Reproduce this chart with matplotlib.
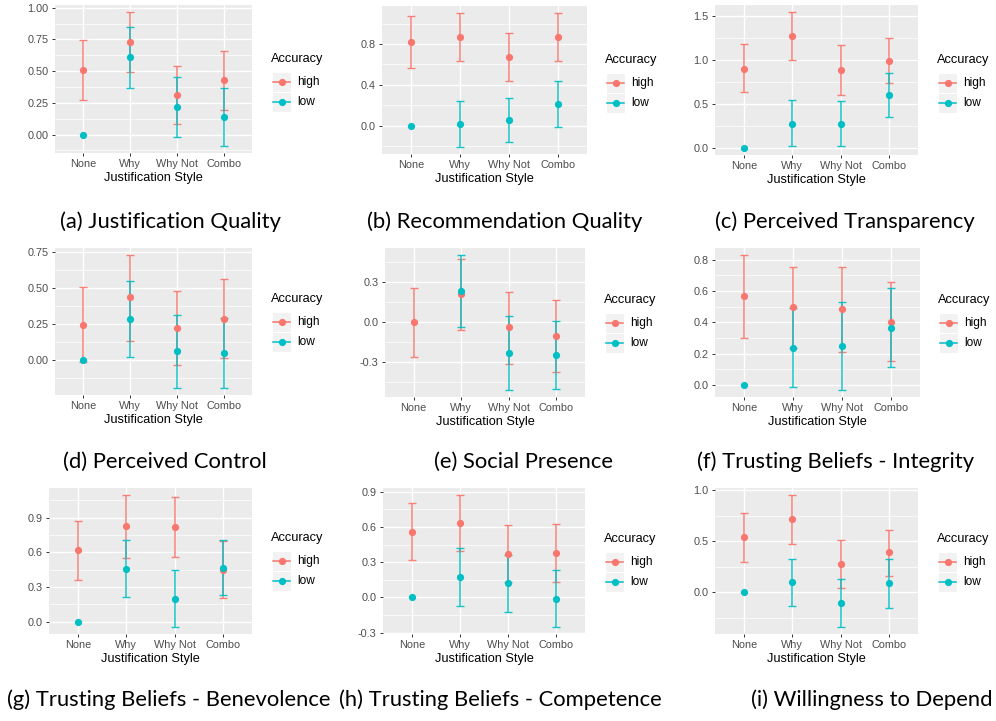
import numpy as np
import matplotlib.pyplot as plt
from matplotlib.patches import Rectangle
from matplotlib.lines import Line2D

W, H = 996, 721

styles = ["None", "Why", "Why Not", "Combo"]
group_names = ["high", "low"]
group_colors = ["#F8766D", "#00BFC4"]

# (a) Justification Quality
jq_high = [0.508, 0.730, 0.310, 0.434]
jq_high_lo = [0.270, 0.495, 0.080, 0.195]
jq_high_hi = [0.745, 0.968, 0.540, 0.660]
jq_low = [0.0, 0.608, 0.216, 0.142]
jq_low_lo = [np.nan, 0.366, -0.020, -0.092]
jq_low_hi = [np.nan, 0.845, 0.453, 0.370]

# (b) Recommendation Quality
rq_high = [0.816, 0.868, 0.673, 0.868]
rq_high_lo = [0.563, 0.630, 0.440, 0.630]
rq_high_hi = [1.070, 1.100, 0.904, 1.106]
rq_low = [0.0, 0.016, 0.059, 0.210]
rq_low_lo = [np.nan, -0.210, -0.160, -0.016]
rq_low_hi = [np.nan, 0.247, 0.276, 0.440]

# (c) Perceived Transparency
pt_high = [0.900, 1.273, 0.887, 0.995]
pt_high_lo = [0.637, 1.000, 0.605, 0.737]
pt_high_hi = [1.185, 1.550, 1.177, 1.253]
pt_low = [0.0, 0.278, 0.278, 0.605]
pt_low_lo = [np.nan, 0.023, 0.023, 0.359]
pt_low_hi = [np.nan, 0.548, 0.540, 0.856]

# (d) Perceived Control
pc_high = [0.245, 0.434, 0.220, 0.286]
pc_high_lo = [-0.012, 0.130, -0.035, 0.012]
pc_high_hi = [0.503, 0.730, 0.476, 0.563]
pc_low = [0.0, 0.286, 0.060, 0.048]
pc_low_lo = [np.nan, 0.018, -0.196, -0.196]
pc_low_hi = [np.nan, 0.550, 0.314, 0.292]

# (e) Social Presence
sp_high = [0.0, 0.210, -0.038, -0.104]
sp_high_lo = [-0.258, -0.058, -0.311, -0.370]
sp_high_hi = [0.258, 0.478, 0.228, 0.165]
sp_low = [np.nan, 0.235, -0.233, -0.248]
sp_low_lo = [np.nan, -0.038, -0.509, -0.500]
sp_low_hi = [np.nan, 0.506, 0.048, 0.013]

# (f) Trusting Beliefs - Integrity
tbi_high = [0.566, 0.496, 0.485, 0.400]
tbi_high_lo = [0.300, 0.238, 0.212, 0.150]
tbi_high_hi = [0.832, 0.755, 0.755, 0.655]
tbi_low = [0.0, 0.238, 0.249, 0.365]
tbi_low_lo = [np.nan, -0.013, -0.034, 0.116]
tbi_low_hi = [np.nan, 0.490, 0.532, 0.620]

# (g) Trusting Beliefs - Benevolence
tbb_high = [0.620, 0.826, 0.818, 0.450]
tbb_high_lo = [0.365, 0.556, 0.564, 0.205]
tbb_high_hi = [0.875, 1.100, 1.077, 0.698]
tbb_low = [0.0, 0.459, 0.200, 0.467]
tbb_low_lo = [np.nan, 0.211, -0.048, 0.231]
tbb_low_hi = [np.nan, 0.704, 0.450, 0.704]

# (h) Trusting Beliefs - Competence
tbc_high = [0.558, 0.636, 0.370, 0.376]
tbc_high_lo = [0.320, 0.398, 0.132, 0.132]
tbc_high_hi = [0.805, 0.875, 0.614, 0.622]
tbc_low = [0.0, 0.174, 0.123, -0.017]
tbc_low_lo = [np.nan, -0.070, -0.120, -0.255]
tbc_low_hi = [np.nan, 0.420, 0.360, 0.230]

# (i) Willingness to Depend
wd_high = [0.539, 0.713, 0.271, 0.390]
wd_high_lo = [0.297, 0.471, 0.039, 0.158]
wd_high_hi = [0.780, 0.955, 0.506, 0.613]
wd_low = [0.0, 0.100, -0.110, 0.090]
wd_low_lo = [np.nan, -0.132, -0.345, -0.152]
wd_low_hi = [np.nan, 0.323, 0.132, 0.323]

captions = ["(a) Justification Quality", "(b) Recommendation Quality",
            "(c) Perceived Transparency", "(d) Perceived Control",
            "(e) Social Presence", "(f) Trusting Beliefs - Integrity",
            "(g) Trusting Beliefs - Benevolence", "(h) Trusting Beliefs - Competence",
            "(i) Willingness to Depend"]

yticks = [[0.0, 0.25, 0.5, 0.75, 1.0], [0.0, 0.4, 0.8, 1.2], [0.0, 0.5, 1.0, 1.5],
          [0.0, 0.25, 0.5, 0.75], [-0.3, 0.0, 0.3], [0.0, 0.2, 0.4, 0.6, 0.8],
          [0.0, 0.3, 0.6, 0.9], [-0.3, 0.0, 0.3, 0.6, 0.9], [0.0, 0.5, 1.0]]
ydec = [2, 1, 1, 2, 1, 1, 1, 1, 1]

data = [
    (jq_high, jq_high_lo, jq_high_hi, jq_low, jq_low_lo, jq_low_hi),
    (rq_high, rq_high_lo, rq_high_hi, rq_low, rq_low_lo, rq_low_hi),
    (pt_high, pt_high_lo, pt_high_hi, pt_low, pt_low_lo, pt_low_hi),
    (pc_high, pc_high_lo, pc_high_hi, pc_low, pc_low_lo, pc_low_hi),
    (sp_high, sp_high_lo, sp_high_hi, sp_low, sp_low_lo, sp_low_hi),
    (tbi_high, tbi_high_lo, tbi_high_hi, tbi_low, tbi_low_lo, tbi_low_hi),
    (tbb_high, tbb_high_lo, tbb_high_hi, tbb_low, tbb_low_lo, tbb_low_hi),
    (tbc_high, tbc_high_lo, tbc_high_hi, tbc_low, tbc_low_lo, tbc_low_hi),
    (wd_high, wd_high_lo, wd_high_hi, wd_low, wd_low_lo, wd_low_hi),
]

# layout in pixels (left, top, right, bottom)
boxes = [(55, 5, 252, 153), (382, 6, 587, 154), (715, 5, 918, 155),
         (55, 248, 252, 395), (385, 248, 585, 397), (715, 248, 920, 397),
         (49, 488, 252, 634), (383, 488, 585, 634), (715, 488, 918, 634)]
legend_pos = [(271, 59), (605, 60), (937, 60),
              (271, 299), (604, 300), (938, 300),
              (271, 538), (604, 539), (937, 539)]
caption_pos = [(170, 222), (505, 222), (845, 222),
               (165, 462), (524, 462), (836, 462),
               (169, 700), (500, 700), (872, 700)]

plt.rcParams['font.family'] = ['Liberation Sans', 'DejaVu Sans']

fig = plt.figure(figsize=(W / 100, H / 100), dpi=100)
fig.patch.set_facecolor('white')


def fx(x):
    return x / W


def fy(y):
    return 1 - y / H


xs = np.arange(len(styles))
for k in range(9):
    l, t, r, b = boxes[k]
    ax = fig.add_axes([fx(l), fy(b), (r - l) / W, (b - t) / H])
    ax.set_facecolor('#EBEBEB')
    hm, hlo, hhi, lm, llo, lhi = [np.array(v, dtype=float) for v in data[k]]
    for m, lo, hi, c in [(hm, hlo, hhi, group_colors[0]), (lm, llo, lhi, group_colors[1])]:
        ok = ~np.isnan(lo)
        ax.errorbar(xs[ok], m[ok], yerr=[m[ok] - lo[ok], hi[ok] - m[ok]], fmt='none',
                    ecolor=c, elinewidth=1.1, capsize=2.6, capthick=1.0, zorder=3, alpha=0.9)
        ax.plot(xs, m, 'o', color=c, markersize=5.2, zorder=4, markeredgewidth=0)
    allv = np.concatenate([hm, hlo, hhi, lm, llo, lhi])
    vmin, vmax = np.nanmin(allv), np.nanmax(allv)
    pad = (vmax - vmin) * 0.05
    y0, y1 = vmin - pad, vmax + pad
    ax.set_ylim(y0, y1)
    ax.set_xlim(-0.6, 3.6)
    tk = [v for v in yticks[k] if y0 <= v <= y1]
    step = yticks[k][1] - yticks[k][0]
    minor = [v - step / 2 for v in yticks[k]] + [yticks[k][-1] + step / 2]
    minor = [v for v in minor if y0 <= v <= y1]
    for v in minor:
        ax.axhline(v, color='white', lw=0.5, zorder=1)
    for v in tk:
        ax.axhline(v, color='white', lw=1.0, zorder=1)
    for v in xs:
        ax.axvline(v, color='white', lw=1.0, zorder=1)
    ax.set_yticks(tk)
    ax.set_yticklabels([f"{v:.{ydec[k]}f}" for v in tk])
    ax.set_xticks(xs)
    ax.set_xticklabels(styles)
    ax.tick_params(length=2.5, width=0.7, color='#333333', labelcolor='#4D4D4D',
                   labelsize=7.8, pad=2)
    for s in ax.spines.values():
        s.set_visible(False)
    ax.set_xlabel("Justification Style", fontsize=9.2, labelpad=2)

    # legend drawn by hand, ggplot style
    lx, ly = legend_pos[k]
    fig.text(fx(lx), fy(ly), "Accuracy", fontsize=9.2, ha='left', va='center')
    for j, (name, c) in enumerate(zip(group_names, group_colors)):
        cy = ly + 23 + 20 * j
        fig.add_artist(Rectangle((fx(lx + 1), fy(cy + 10)), 19 / W, 20 / H,
                                 transform=fig.transFigure, facecolor='#F2F2F2',
                                 edgecolor='white', lw=0.8))
        fig.add_artist(Line2D([fx(lx + 2), fx(lx + 19)], [fy(cy), fy(cy)],
                              transform=fig.transFigure, color=c, lw=1.1))
        fig.add_artist(Line2D([fx(lx + 10.5)], [fy(cy)], transform=fig.transFigure,
                              marker='o', color=c, markersize=5.2, markeredgewidth=0))
        fig.text(fx(lx + 26), fy(cy), name, fontsize=8.6, ha='left', va='center')

    cx, cyc = caption_pos[k]
    fig.text(fx(cx), fy(cyc), captions[k], fontsize=15.8, ha='center', va='center',
             family=['Lato', 'DejaVu Sans'])

fig.savefig("out.png", dpi=100)
